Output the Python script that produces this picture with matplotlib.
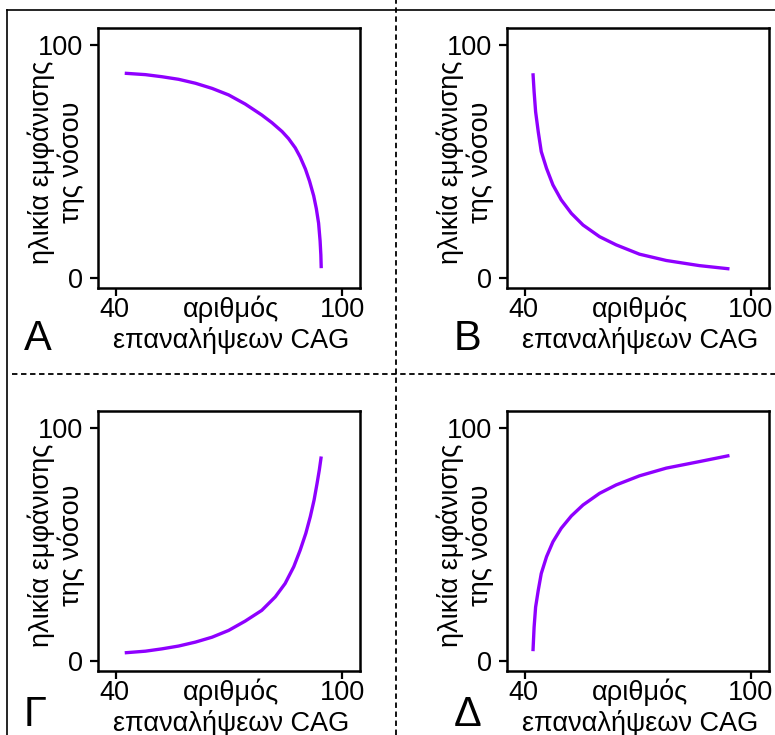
import matplotlib
matplotlib.use("Agg")
import matplotlib.pyplot as plt
from matplotlib.lines import Line2D

plt.rcParams['font.family'] = ['Liberation Sans', 'DejaVu Sans']

# CAG repeats (x) vs age of onset (y)
a_x = [42.3, 47.8, 52.2, 56.6, 61.1, 65.5, 69.9, 74.3, 78.7, 81.4, 84.1, 85.8, 87.6,
       88.9, 90.3, 91.4, 92.5, 93.2, 93.8, 94.2, 94.4, 94.5]
a_y = [87.9, 87.3, 86.4, 85.3, 83.6, 81.4, 78.6, 74.7, 70.0, 66.7, 62.9, 59.9, 55.9,
       52.0, 46.8, 41.6, 35.3, 29.8, 23.6, 16.0, 10.0, 4.3]

b_x = [42.1, 42.4, 42.8, 43.5, 44.3, 45.7, 47.4, 49.6, 52.3, 55.4, 59.8, 64.2,
       70.4, 77.5, 86.3, 94.3]
b_y = [87.9, 80.0, 71.4, 62.8, 54.3, 47.1, 40.0, 33.6, 27.8, 22.8, 17.8, 14.3,
       10.3, 7.6, 5.4, 4.0]

c_x = [42.3, 47.8, 52.2, 56.6, 61.1, 65.5, 69.9, 74.3, 78.7, 82.3, 84.9, 87.2,
       88.9, 90.4, 91.6, 92.6, 93.4, 94.0, 94.5]
c_y = [3.6, 4.3, 5.3, 6.5, 8.2, 10.3, 13.2, 17.2, 21.8, 27.6, 33.3, 40.5,
       47.6, 54.8, 62.0, 69.1, 76.3, 82.1, 87.8]

d_x = [42.1, 42.4, 42.8, 43.5, 44.3, 45.7, 47.4, 49.6, 52.3, 55.4, 59.8, 64.2,
       70.4, 77.5, 86.3, 94.3]
d_y = [4.3, 14.6, 23.2, 30.4, 37.6, 44.8, 51.2, 57.0, 62.3, 67.0, 72.0, 75.6,
       79.5, 82.8, 85.6, 88.2]

panel_letters = ['A', 'B', 'Γ', 'Δ']
x_ticks = [40, 100]
y_ticks = [0, 100]
xlabel_1 = 'αριθμός'
xlabel_2 = 'επαναλήψεων CAG'
ylabel_1 = 'ηλικία εμφάνισης'
ylabel_2 = 'της νόσου'

W, H = 775, 735
FS = 19.5
fig = plt.figure(figsize=(W / 100, H / 100), dpi=100)


def px(x, y):
    # pixel coords (from top-left) -> figure fraction
    return x / W, 1 - y / H


def draw_panel(left, top, xs, ys, letter, letter_x, letter_dy):
    w, h = 262, 260
    ax = fig.add_axes([left / W, 1 - (top + h) / H, w / W, h / H])
    ax.plot(xs, ys, color='#8f00ff', linewidth=2.4, solid_capstyle='butt')
    ax.set_xlim(35.2, 104.8)
    ax.set_ylim(-4.2, 107.3)
    ax.set_xticks(x_ticks)
    ax.set_yticks(y_ticks)
    ax.tick_params(labelsize=FS, length=6, width=1.6, pad=5)
    ax.set_xticklabels([])
    for s in ax.spines.values():
        s.set_linewidth(1.8)
    bottom = top + h
    # x tick labels share a line with the first row of the x label
    for t, xpos in zip(x_ticks, [114, 342]):
        fig.text(*px(left - 98 + xpos, bottom + 29), str(t), fontsize=FS,
                 ha='center', va='baseline')
    fig.text(*px(left + 133, bottom + 29), xlabel_1, fontsize=FS, ha='center', va='baseline')
    fig.text(*px(left + 133, bottom + 60), xlabel_2, fontsize=FS, ha='center', va='baseline')
    fig.text(*px(left - 57, top + 134), ylabel_1, fontsize=FS, rotation=90,
             ha='center', va='center')
    fig.text(*px(left - 27, top + 134), ylabel_2, fontsize=FS, rotation=90,
             ha='center', va='center')
    fig.text(*px(letter_x, bottom + letter_dy), letter, fontsize=30, ha='left', va='baseline')
    return ax


draw_panel(98, 28, a_x, a_y, panel_letters[0], 24, 62)
draw_panel(507, 28, b_x, b_y, panel_letters[1], 454, 62)
draw_panel(98, 411, c_x, c_y, panel_letters[2], 24, 55)
draw_panel(507, 411, d_x, d_y, panel_letters[3], 454, 55)

# outer frame (top and left edges) and dashed separators
fig.add_artist(Line2D([7 / W, 1], [1 - 10 / H, 1 - 10 / H], color='black', lw=1.2))
fig.add_artist(Line2D([7 / W, 7 / W], [0, 1 - 10 / H], color='black', lw=1.2))
fig.add_artist(Line2D([12 / W, 1], [1 - 374 / H, 1 - 374 / H], color='black', lw=1.3,
                      linestyle=(0, (3, 2))))
fig.add_artist(Line2D([396 / W, 396 / W], [0, 1], color='black', lw=1.3,
                      linestyle=(0, (3, 2))))

fig.savefig('out.png', dpi=100)
